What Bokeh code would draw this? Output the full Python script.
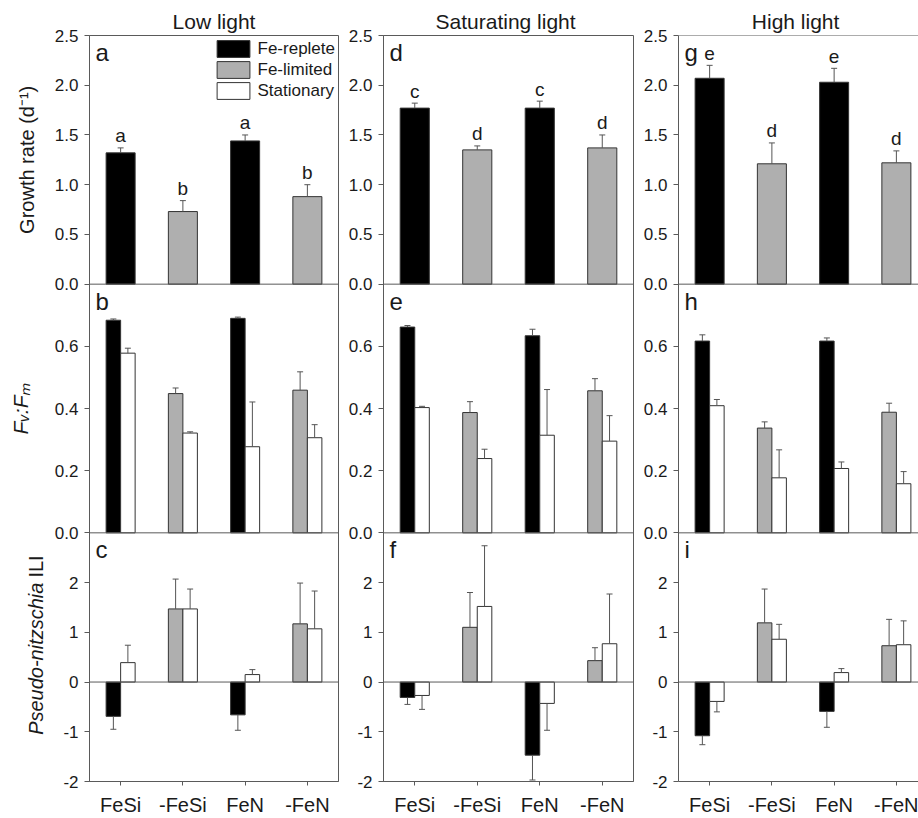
import math
from bokeh.plotting import figure
from bokeh.models import (Range1d, FixedTicker, CustomJSTickFormatter, Span, Label,
                          Legend, LegendItem, ColumnDataSource)
from bokeh.layouts import row
from bokeh.embed import file_html
from bokeh.resources import INLINE
from bokeh.core.properties import value

# ---------------- data ----------------
categories = ["FeSi", "-FeSi", "FeN", "-FeN"]
fe_status = ["Fe-replete", "Fe-limited", "Fe-replete", "Fe-limited"]
light_levels = ["Low light", "Saturating  light", "High  light"]
panel_letters = [["a", "b", "c"], ["d", "e", "f"], ["g", "h", "i"]]

growth_low = [1.32, 0.73, 1.44, 0.88]
growth_low_se = [0.05, 0.11, 0.06, 0.12]
growth_sat = [1.77, 1.35, 1.77, 1.37]
growth_sat_se = [0.05, 0.04, 0.07, 0.13]
growth_high = [2.07, 1.21, 2.03, 1.22]
growth_high_se = [0.13, 0.21, 0.14, 0.12]
growth_letters_low = ["a", "b", "a", "b"]
growth_letters_sat = ["c", "d", "c", "d"]
growth_letters_high = ["e", "d", "e", "d"]

fvfm_low_fe = [0.684, 0.448, 0.690, 0.459]
fvfm_low_fe_se = [0.004, 0.018, 0.004, 0.059]
fvfm_low_stat = [0.578, 0.321, 0.277, 0.306]
fvfm_low_stat_se = [0.016, 0.004, 0.144, 0.042]
fvfm_sat_fe = [0.662, 0.387, 0.634, 0.457]
fvfm_sat_fe_se = [0.005, 0.035, 0.021, 0.039]
fvfm_sat_stat = [0.403, 0.239, 0.314, 0.295]
fvfm_sat_stat_se = [0.004, 0.030, 0.147, 0.082]
fvfm_high_fe = [0.617, 0.337, 0.617, 0.388]
fvfm_high_fe_se = [0.020, 0.020, 0.010, 0.029]
fvfm_high_stat = [0.409, 0.177, 0.207, 0.158]
fvfm_high_stat_se = [0.020, 0.090, 0.021, 0.039]

ili_low_fe = [-0.69, 1.47, -0.66, 1.17]
ili_low_fe_se = [0.26, 0.60, 0.31, 0.82]
ili_low_stat = [0.39, 1.47, 0.15, 1.07]
ili_low_stat_se = [0.35, 0.40, 0.10, 0.76]
ili_sat_fe = [-0.31, 1.10, -1.47, 0.43]
ili_sat_fe_se = [0.14, 0.70, 0.50, 0.26]
ili_sat_stat = [-0.27, 1.52, -0.43, 0.77]
ili_sat_stat_se = [0.28, 1.22, 0.54, 1.00]
ili_high_fe = [-1.08, 1.19, -0.59, 0.73]
ili_high_fe_se = [0.18, 0.68, 0.32, 0.53]
ili_high_stat = [-0.39, 0.86, 0.19, 0.75]
ili_high_stat_se = [0.21, 0.30, 0.08, 0.48]

growth_ticks = [0.0, 0.5, 1.0, 1.5, 2.0, 2.5]
fvfm_ticks = [0.0, 0.2, 0.4, 0.6]
ili_ticks = [-2, -1, 0, 1, 2]

# ---------------- styling ----------------
FONT = "Liberation Sans"
FILL = {"Fe-replete": "#000000", "Fe-limited": "#afafaf"}
STAT_FILL = "#ffffff"
BAR_LINE = "#333333"
ERR = "#555555"
FRAME = "#5a5a5a"
TXT = "#1a1a1a"

ROW_PX = 249.0          # height of each stacked panel
UNIT_PX = 62.25         # pixels per category unit
LABEL_W = 50            # width of the strip holding the y titles

# rows: (range name, data lo, data hi, band bottom in layout units, decimals, ticks)
ROWS = [
    ("r1", 0.0, 2.5, 2, 1, growth_ticks),
    ("r2", 0.0, 0.8, 1, 1, fvfm_ticks),
    ("r3", -2.0, 3.0, 0, 0, ili_ticks),
]

cols = [
    dict(growth=growth_low, growth_se=growth_low_se, letters=growth_letters_low,
         fv_fe=fvfm_low_fe, fv_fe_se=fvfm_low_fe_se, fv_st=fvfm_low_stat, fv_st_se=fvfm_low_stat_se,
         ili_fe=ili_low_fe, ili_fe_se=ili_low_fe_se, ili_st=ili_low_stat, ili_st_se=ili_low_stat_se),
    dict(growth=growth_sat, growth_se=growth_sat_se, letters=growth_letters_sat,
         fv_fe=fvfm_sat_fe, fv_fe_se=fvfm_sat_fe_se, fv_st=fvfm_sat_stat, fv_st_se=fvfm_sat_stat_se,
         ili_fe=ili_sat_fe, ili_fe_se=ili_sat_fe_se, ili_st=ili_sat_stat, ili_st_se=ili_sat_stat_se),
    dict(growth=growth_high, growth_se=growth_high_se, letters=growth_letters_high,
         fv_fe=fvfm_high_fe, fv_fe_se=fvfm_high_fe_se, fv_st=fvfm_high_stat, fv_st_se=fvfm_high_stat_se,
         ili_fe=ili_high_fe, ili_fe_se=ili_high_fe_se, ili_st=ili_high_stat, ili_st_se=ili_high_stat_se),
]

FRAME_W = [249, 250, 240]
BORDER_L = [89 - LABEL_W, 43, 43]
BORDER_R = [2, 2, 0]

xc = [i + 0.5 for i in range(len(categories))]
fe_fill = [FILL[s] for s in fe_status]

layout_ticks = []
for (_, lo, hi, b, _, tks) in ROWS:
    s = hi - lo
    layout_ticks += [b + (t - lo) / s for t in tks]

bands_js = "[" + ",".join("[%g,%g,%g,%d]" % (b, lo, hi - lo, d) for (_, lo, hi, b, d, _) in ROWS) + "]"
fmt_code = """
const bands = %s;
for (const bd of bands) {
  const b = bd[0], lo = bd[1], s = bd[2], d = bd[3];
  if (tick >= b - 1e-6) {
    const v = lo + (tick - b) * s;
    return d > 0 ? v.toFixed(d) : Math.round(v).toString();
  }
}
return "";
""" % bands_js


def draw_bars(p, rng, xs, vals, ses, fill, width):
    src = ColumnDataSource(dict(x=xs, top=vals, fill=fill))
    r = p.vbar(x="x", top="top", bottom=0, width=width, fill_color="fill",
               line_color=BAR_LINE, line_width=1, source=src, y_range_name=rng)
    tips = [v + e if v >= 0 else v - e for v, e in zip(vals, ses)]
    p.segment(x0=xs, y0=vals, x1=xs, y1=tips, line_color=ERR, line_width=1, y_range_name=rng)
    p.scatter(x=xs, y=tips, marker="dash", size=6, line_color=ERR, line_width=1, y_range_name=rng)
    return r, tips


# ---------- strip with the rotated y-axis titles ----------
lab = figure(width=LABEL_W, height=818, x_range=Range1d(0, LABEL_W), y_range=Range1d(0, 3),
             min_border_left=0, min_border_right=0, min_border_top=35, min_border_bottom=36,
             output_backend="svg", toolbar_location=None,
             x_axis_location=None, y_axis_location=None)
lab.outline_line_color = None
lab.xgrid.visible = False
lab.ygrid.visible = False
ang = math.pi / 2
lab.text(x=[26], y=[2.5], text=["Growth rate (d\u207b\u00b9)"], angle=ang,
         text_align="center", text_baseline="alphabetic", text_font=value(FONT),
         text_font_size=value("20px"), text_color=TXT)
lab.text(x=[20], y=[1.5], text=["F\u1d65:F\u2098"], angle=ang,
         text_align="center", text_baseline="alphabetic", text_font=value(FONT),
         text_font_size=value("21px"), text_font_style="italic", text_color=TXT)
junction = 0.80
lab.text(x=[35], y=[junction], text=["Pseudo-nitzschia"], angle=ang,
         text_align="right", text_baseline="alphabetic", text_font=value(FONT),
         text_font_size=value("20px"), text_font_style="italic", text_color=TXT)
lab.text(x=[35], y=[junction + 5 / ROW_PX], text=["ILI"], angle=ang,
         text_align="left", text_baseline="alphabetic", text_font=value(FONT),
         text_font_size=value("20px"), text_color=TXT)

figs = [lab]
for j, d in enumerate(cols):
    xmax = FRAME_W[j] / UNIT_PX if j == 2 else 4.0
    p = figure(width=BORDER_L[j] + FRAME_W[j] + BORDER_R[j], height=818,
               x_range=Range1d(0, xmax), y_range=Range1d(0, 3),
               min_border_left=BORDER_L[j], min_border_right=BORDER_R[j],
               min_border_top=35, min_border_bottom=36,
               output_backend="svg", toolbar_location=None, title=light_levels[j])
    p.extra_y_ranges = {
        name: Range1d(lo - b * (hi - lo), hi + (2 - b) * (hi - lo))
        for (name, lo, hi, b, _, _) in ROWS
    }
    p.xgrid.visible = False
    p.ygrid.visible = False
    p.background_fill_color = "white"
    p.border_fill_color = "white"
    if j == 2:
        p.outline_line_color = None
        p.add_layout(Span(location=3, dimension="width", line_color=FRAME, line_width=1))
    else:
        p.outline_line_color = FRAME
        p.outline_line_width = 1

    p.title.align = "center"
    p.title.text_font = FONT
    p.title.text_font_size = "21px"
    p.title.text_font_style = "normal"
    p.title.text_color = TXT
    p.title.standoff = 5

    yax = p.yaxis[0]
    yax.ticker = FixedTicker(ticks=layout_ticks, minor_ticks=[])
    yax.formatter = CustomJSTickFormatter(code=fmt_code)
    yax.major_tick_out = 5
    yax.major_tick_in = 0
    yax.minor_tick_out = 0
    yax.minor_tick_in = 0
    yax.axis_line_color = FRAME
    yax.major_tick_line_color = FRAME
    yax.major_label_text_font = FONT
    yax.major_label_text_font_size = "17px"
    yax.major_label_text_color = TXT
    yax.major_label_standoff = 6

    xax = p.xaxis[0]
    xax.ticker = FixedTicker(ticks=xc, minor_ticks=[])
    xax.major_label_overrides = {x: c for x, c in zip(xc, categories)}
    xax.major_tick_out = 4
    xax.major_tick_in = 0
    xax.minor_tick_out = 0
    xax.minor_tick_in = 0
    xax.axis_line_color = FRAME
    xax.major_tick_line_color = FRAME
    xax.major_label_text_font = FONT
    xax.major_label_text_font_size = "20px"
    xax.major_label_text_color = TXT
    xax.major_label_standoff = 8

    # panel separators and zero line of ILI row
    for (_, _, _, b, _, _) in ROWS:
        if b > 0:
            p.add_layout(Span(location=b, dimension="width", line_color=FRAME, line_width=1))
    p.add_layout(Span(location=0, dimension="width", y_range_name="r3",
                      line_color=FRAME, line_width=1))

    # row 1: growth rate
    r_growth, tips = draw_bars(p, "r1", xc, d["growth"], d["growth_se"], fe_fill, 0.466)
    p.text(x=xc, y=tips, text=d["letters"], y_range_name="r1", text_align="center",
           text_baseline="alphabetic", y_offset=-12, text_font=value(FONT),
           text_font_size=value("19px"), text_color=TXT)

    # row 2: Fv:Fm
    half = 0.1165
    x_left = [x - half for x in xc]
    x_right = [x + half for x in xc]
    draw_bars(p, "r2", x_left, d["fv_fe"], d["fv_fe_se"], fe_fill, 0.233)
    r_stat, _ = draw_bars(p, "r2", x_right, d["fv_st"], d["fv_st_se"], [STAT_FILL] * 4, 0.233)

    # row 3: ILI
    draw_bars(p, "r3", x_left, d["ili_fe"], d["ili_fe_se"], fe_fill, 0.233)
    draw_bars(p, "r3", x_right, d["ili_st"], d["ili_st_se"], [STAT_FILL] * 4, 0.233)

    # panel letters
    for k, (_, _, _, b, _, _) in enumerate(ROWS):
        p.add_layout(Label(x=6 / UNIT_PX, y=b + 1 - 17 / ROW_PX, text=panel_letters[j][k],
                           text_font=FONT, text_font_size="24px", text_color=TXT,
                           text_baseline="alphabetic", text_align="left"))

    if j == 0:
        legend = Legend(items=[
            LegendItem(label="Fe-replete", renderers=[r_growth], index=0),
            LegendItem(label="Fe-limited", renderers=[r_growth], index=1),
            LegendItem(label="Stationary", renderers=[r_stat], index=0),
        ], location="top_right")
        legend.border_line_color = None
        legend.background_fill_alpha = 0
        legend.label_text_font = FONT
        legend.label_text_font_size = "17px"
        legend.label_text_color = TXT
        legend.glyph_width = 41
        legend.glyph_height = 21
        legend.spacing = 0
        legend.padding = 0
        legend.margin = 3
        legend.label_standoff = 4
        p.add_layout(legend)
    figs.append(p)

layout = row(*figs, spacing=0)
open("out.html", "w").write(file_html(layout, INLINE))
